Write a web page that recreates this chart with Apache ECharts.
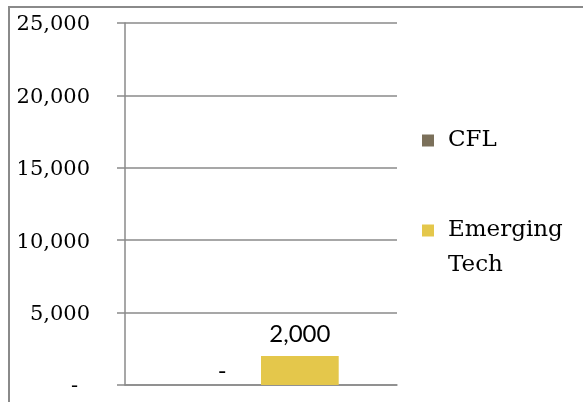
<!DOCTYPE html>
<html>
<head>
<meta charset="utf-8">
<script src="https://cdn.jsdelivr.net/npm/echarts@6/dist/echarts.min.js"></script>
<style>
  html, body { margin: 0; padding: 0; background: #fff; }
  #chart { width: 583px; height: 402px; }
</style>
</head>
<body>
<div id="chart"></div>
<script>
// data
const categories = [''];
const seriesNames = ['CFL', 'Emerging Tech'];
const cflValues = [0];
const emergingValues = [2000];
const yTicks = [0, 5000, 10000, 15000, 20000, 25000];

const gridColor = '#8a8a8a';
const serif = 'DejaVu Serif';

// 0 is shown as "-" like Excel accounting format
const fmtNum = v => (v === 0 ? '-' : v.toLocaleString('en-US'));

const legendText = {
  fontFamily: serif,
  fontSize: 23,
  color: '#000',
  lineHeight: 35,
  padding: [0, 0, 0, 9]
};

const chart = echarts.init(document.getElementById('chart'));

const option = {
  animation: false,
  backgroundColor: '#fff',
  graphic: [
    {
      // outer chart frame (cropped on right/bottom)
      type: 'rect',
      shape: { x: 9, y: 7, width: 800, height: 600 },
      style: { fill: 'none', stroke: gridColor, lineWidth: 2 },
      silent: true
    }
  ],
  grid: { left: 125, right: 186, top: 23, bottom: 17 },
  legend: [
    {
      data: [seriesNames[0]],
      orient: 'vertical',
      left: 422,
      top: 123,
      padding: 0,
      itemWidth: 12,
      itemHeight: 12,
      icon: 'rect',
      textStyle: legendText
    },
    {
      data: [seriesNames[1]],
      orient: 'vertical',
      left: 422,
      top: 178,
      padding: 0,
      itemWidth: 12,
      itemHeight: 12,
      icon: 'rect',
      // wrap the name; leading empty line keeps the first word level with the icon
      formatter: name => '\n' + name.replace(' ', '\n'),
      textStyle: legendText
    }
  ],
  xAxis: {
    type: 'category',
    data: categories,
    axisLine: { show: true, lineStyle: { color: gridColor, width: 1.5 } },
    axisTick: { show: false },
    axisLabel: { show: false }
  },
  yAxis: {
    type: 'value',
    min: yTicks[0],
    max: yTicks[yTicks.length - 1],
    interval: yTicks[1] - yTicks[0],
    axisLine: { show: true, lineStyle: { color: gridColor, width: 1.5 } },
    axisTick: { show: true, length: 8, lineStyle: { color: gridColor, width: 1.5 } },
    splitLine: { show: true, lineStyle: { color: gridColor, width: 1.5 } },
    axisLabel: {
      margin: 35,
      fontFamily: serif,
      fontSize: 21,
      color: '#000',
      padding: [4, 0, 0, 0],
      formatter: v => (v === 0 ? '{z|-}' : v.toLocaleString('en-US')),
      rich: {
        z: { fontFamily: serif, fontSize: 21, color: '#000', padding: [0, 12, 0, 0] }
      }
    }
  },
  series: [
    {
      name: seriesNames[0],
      type: 'bar',
      data: cflValues,
      barGap: '0%',
      barCategoryGap: '42.86%',
      itemStyle: { color: '#7b705a' },
      label: {
        show: true,
        position: 'top',
        distance: 2,
        fontFamily: 'Lato',
        fontSize: 24,
        color: '#000',
        formatter: p => fmtNum(p.value)
      }
    },
    {
      name: seriesNames[1],
      type: 'bar',
      data: emergingValues,
      barGap: '0%',
      barCategoryGap: '42.86%',
      itemStyle: { color: '#e4c74b' },
      label: {
        show: true,
        position: 'top',
        distance: 10,
        fontFamily: 'Lato',
        fontSize: 24,
        color: '#000',
        formatter: p => fmtNum(p.value)
      }
    }
  ]
};

chart.setOption(option);
</script>
</body>
</html>
